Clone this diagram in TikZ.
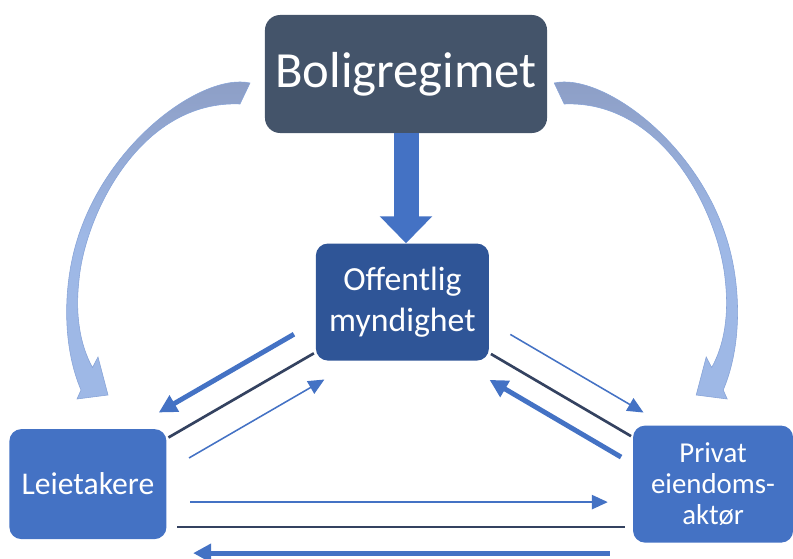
\documentclass[tikz,border=0pt]{standalone}
\usepackage{fontspec}
\setmainfont{Carlito}
\usetikzlibrary{positioning, arrows.meta}
\definecolor{slate}{RGB}{68,84,106}
\definecolor{navy}{RGB}{47,85,151}
\definecolor{accent}{RGB}{68,114,196}
\definecolor{rule}{RGB}{52,66,96}
\definecolor{swgray}{RGB}{140,157,196}
\definecolor{swblue}{RGB}{158,184,230}
\definecolor{swedge}{RGB}{135,163,215}

\begin{document}
\begin{tikzpicture}[x=0.025cm, y=-0.025cm,
        main/.style = {fill=accent, rounded corners=0.3cm, text=white, align=center},
        heavy/.style = {accent, line width=3.5pt, -{Triangle[length=0.45cm, width=0.45cm]}},
        light/.style = {accent, line width=1.1pt, -{Triangle[length=0.4cm, width=0.36cm]}},
        link/.style = {rule, line width=1.9pt},
        nudge/.style = {transform canvas={shift={#1}}},
        swoosh/.style = {draw=swedge, line width=0.4pt, top color=swgray, bottom color=swblue, middle color=swblue}]
        \useasboundingbox (0,0) rectangle (793,558);

        \node[main, fill=slate, rounded corners=0.38cm, minimum width=7.05cm, minimum height=2.95cm, font=\fontsize{36}{43}\selectfont] (B) at (406,74) {Boligregimet};
        \node[main, fill=navy, minimum width=4.325cm, minimum height=2.925cm, font=\fontsize{24}{29}\selectfont] (O) [on grid, below=5.7cm of B, xshift=-0.09cm] {Offentlig\\myndighet};
        \node[main, minimum width=3.925cm, minimum height=2.75cm, font=\fontsize{22.5}{27}\selectfont] (L) [on grid, below left=4.55cm and 7.86cm of O] {Leietakere};
        \node[main, minimum width=4cm, minimum height=2.925cm, font=\fontsize{20.5}{22}\selectfont] (P) [on grid, right=15.625cm of L] {Privat\\eiendoms-\\aktør};

        \draw[accent, line width=0.625cm, -{Triangle[length=0.675cm, width=1.275cm]}] (B.south) -- (B.south |- O.north);

        % offentlig <-> leietakere
        \draw[heavy, nudge={(-13.3,-22.9)}, shorten <=0.24cm, shorten >=0.155cm] (O) -- (L);
        \draw[link, shorten <=0.05cm, shorten >=0.05cm] (O) -- (L);
        \draw[light, nudge={(14,24.2)}, shorten <=0.24cm, shorten >=0.15cm] (L) -- (O);

        % offentlig <-> privat
        \draw[light, nudge={(13.5,-23)}, shorten <=0.22cm, shorten >=0.08cm] (O) -- (P);
        \draw[link, shorten <=0.05cm, shorten >=0.05cm] (O) -- (P);
        \draw[heavy, nudge={(-11.7,20)}, shorten >=0.35cm] (P) -- (O);

        % leietakere <-> privat
        \draw[light, nudge={(0,18)}, shorten <=0.59cm, shorten >=0.625cm] (L) -- (P);
        \draw[link, nudge={(0,43)}, shorten <=0.26cm, shorten >=0.2cm] (L) -- (P);
        \draw[heavy, nudge={(0,69)}, shorten <=0.575cm, shorten >=0.66cm] (P) -- (L);

        % the two curved arrows from the regime
        \foreach \s/\t in {1/0, -1/20.1}
            \path[swoosh, xshift=\t cm, xscale=\s] (250,83) .. controls (200,72) and (95,150) .. (72,260)
                .. controls (63.6,300) and (64,350) .. (81,390)
                -- (77,399) -- (108,395) -- (98,357) -- (92.5,367.5)
                .. controls (80,345) and (75,315) .. (79,280)
                .. controls (85,215) and (140,100) .. (240,104) -- cycle;
    \end{tikzpicture}
\end{document}
